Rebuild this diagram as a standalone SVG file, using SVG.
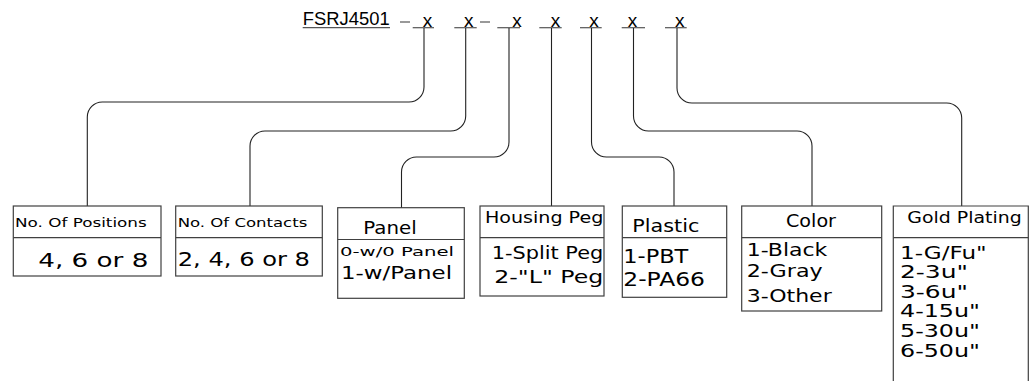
<svg xmlns="http://www.w3.org/2000/svg" width="1034" height="381" viewBox="0 0 1034 381">
<style>
  .bg{fill:#fff}
  .box{fill:none;stroke:#404040;stroke-width:1.2}
  .ln{fill:none;stroke:#222;stroke-width:1.1}
  .ul{fill:none;stroke:#555;stroke-width:1.2}
  .a{font-family:"Liberation Sans",Arial,sans-serif;fill:#000}
  .t{font-family:"DejaVu Sans","Liberation Sans",sans-serif;fill:#000}
  .hd{font-size:16.5px}
  .sm{font-size:13px}
  .md{font-size:18px}
  .lg{font-size:20px}
</style>
<rect class="bg" x="0" y="0" width="1034" height="381"/>

<g id="code">
  <text class="a" x="302.7" y="24.5" font-size="17.5" textLength="87" lengthAdjust="spacingAndGlyphs">FSRJ4501</text>
  <line class="ul" x1="302.7" y1="27.7" x2="390" y2="27.7"/>
  <line class="ul" x1="400" y1="22" x2="410" y2="22"/>
  <line class="ul" x1="480" y1="22" x2="490" y2="22"/>
  <line class="ul" x1="412.7" y1="27.7" x2="434" y2="27.7"/>
  <line class="ul" x1="454.3" y1="27.7" x2="476.7" y2="27.7"/>
  <line class="ul" x1="497.3" y1="27.7" x2="520" y2="27.7"/>
  <line class="ul" x1="539.3" y1="27.7" x2="561.7" y2="27.7"/>
  <line class="ul" x1="580" y1="27.7" x2="601.7" y2="27.7"/>
  <line class="ul" x1="621.7" y1="27.7" x2="645" y2="27.7"/>
  <line class="ul" x1="665" y1="27.7" x2="686.7" y2="27.7"/>
  <text class="a" x="422.7" y="27" font-size="19">x</text>
  <text class="a" x="464" y="27" font-size="19">x</text>
  <text class="a" x="512.3" y="27" font-size="19">x</text>
  <text class="a" x="550.7" y="27" font-size="19">x</text>
  <text class="a" x="589.3" y="27" font-size="19">x</text>
  <text class="a" x="627.7" y="27" font-size="19">x</text>
  <text class="a" x="675" y="27" font-size="19">x</text>
</g>

<g id="connectors">
  <path class="ln" d="M424,28 V87 A15,15 0 0 1 409,102 H102.3 A15,15 0 0 0 87.3,117 V206"/>
  <path class="ln" d="M465.7,28 V116 A15,15 0 0 1 450.7,131 H265 A15,15 0 0 0 250,146 V206"/>
  <path class="ln" d="M509,28 V142 A15,15 0 0 1 494,157 H416.5 A15,15 0 0 0 401.5,172 V208"/>
  <path class="ln" d="M551.5,28 V206"/>
  <path class="ln" d="M591.5,28 V142 A15,15 0 0 0 606.5,157 H659 A15,15 0 0 1 674,172 V206"/>
  <path class="ln" d="M633.5,28 V116 A15,15 0 0 0 648.5,131 H797 A15,15 0 0 1 812,146 V206"/>
  <path class="ln" d="M677,28 V88 A15,15 0 0 0 692,103 H946.7 A15,15 0 0 1 961.7,118 V206"/>
</g>

<g id="positions">
  <rect class="box" x="13.3" y="206" width="147.7" height="70"/>
  <line class="box" x1="13.3" y1="237.7" x2="161" y2="237.7"/>
  <text class="t sm" x="15" y="227.3" textLength="131.7" lengthAdjust="spacingAndGlyphs">No. Of Positions</text>
  <text class="t lg" x="38.3" y="266.7" textLength="110" lengthAdjust="spacingAndGlyphs">4, 6 or 8</text>
</g>

<g id="contacts">
  <rect class="box" x="175.7" y="206" width="146.6" height="70"/>
  <line class="box" x1="175.7" y1="237.7" x2="322.3" y2="237.7"/>
  <text class="t sm" x="177.7" y="227.3" textLength="129.6" lengthAdjust="spacingAndGlyphs">No. Of Contacts</text>
  <text class="t lg" x="177.7" y="266.3" textLength="132.3" lengthAdjust="spacingAndGlyphs">2, 4, 6 or 8</text>
</g>

<g id="panel">
  <rect class="box" x="337.7" y="207.7" width="126.6" height="90.6"/>
  <line class="box" x1="337.7" y1="239.5" x2="464.3" y2="239.5"/>
  <text class="t md" x="363.3" y="233.5" textLength="53.4" lengthAdjust="spacingAndGlyphs">Panel</text>
  <text class="t" x="340" y="255.5" font-size="13" textLength="114" lengthAdjust="spacingAndGlyphs">0-w/0 Panel</text>
  <text class="t md" x="341" y="279.3" textLength="111" lengthAdjust="spacingAndGlyphs">1-w/Panel</text>
</g>

<g id="housing">
  <rect class="box" x="480" y="206" width="124" height="90"/>
  <line class="box" x1="480" y1="237.7" x2="604" y2="237.7"/>
  <text class="t hd" x="485" y="223.3" textLength="118.3" lengthAdjust="spacingAndGlyphs">Housing Peg</text>
  <text class="t md" x="491.7" y="259.3" textLength="111.6" lengthAdjust="spacingAndGlyphs">1-Split Peg</text>
  <text class="t md" x="494.3" y="283.3" textLength="109" lengthAdjust="spacingAndGlyphs">2-"L" Peg</text>
</g>

<g id="plastic">
  <rect class="box" x="622.3" y="206" width="104.4" height="91.3"/>
  <line class="box" x1="622.3" y1="237.7" x2="726.7" y2="237.7"/>
  <text class="t md" x="632.3" y="231.7" textLength="67" lengthAdjust="spacingAndGlyphs">Plastic</text>
  <text class="t" x="623.3" y="263.3" font-size="20" textLength="65" lengthAdjust="spacingAndGlyphs">1-PBT</text>
  <text class="t" x="623.3" y="285.7" font-size="20" textLength="81.7" lengthAdjust="spacingAndGlyphs">2-PA66</text>
</g>

<g id="color">
  <rect class="box" x="741.7" y="206" width="140" height="105"/>
  <line class="box" x1="741.7" y1="237.7" x2="881.7" y2="237.7"/>
  <text class="t md" x="786" y="227.3" textLength="50" lengthAdjust="spacingAndGlyphs">Color</text>
  <text class="t" x="746.7" y="256" font-size="17" textLength="80.6" lengthAdjust="spacingAndGlyphs">1-Black</text>
  <text class="t" x="746.7" y="277" font-size="17" textLength="76" lengthAdjust="spacingAndGlyphs">2-Gray</text>
  <text class="t md" x="746.7" y="301.7" textLength="85" lengthAdjust="spacingAndGlyphs">3-Other</text>
</g>

<g id="gold">
  <path class="box" d="M893.3,381 V206 H1028.3 V381"/>
  <line class="box" x1="893.3" y1="237.7" x2="1028.3" y2="237.7"/>
  <text class="t hd" x="907.3" y="223.3" textLength="114.4" lengthAdjust="spacingAndGlyphs">Gold Plating</text>
  <text class="t md" x="900" y="259" textLength="86.7" lengthAdjust="spacingAndGlyphs">1-G/Fu"</text>
  <text class="t md" x="900" y="278.3" textLength="68" lengthAdjust="spacingAndGlyphs">2-3u"</text>
  <text class="t md" x="900" y="297.7" textLength="68" lengthAdjust="spacingAndGlyphs">3-6u"</text>
  <text class="t md" x="900" y="317.3" textLength="80" lengthAdjust="spacingAndGlyphs">4-15u"</text>
  <text class="t md" x="900" y="336.7" textLength="80" lengthAdjust="spacingAndGlyphs">5-30u"</text>
  <text class="t md" x="900" y="356.7" textLength="80" lengthAdjust="spacingAndGlyphs">6-50u"</text>
</g>
</svg>
